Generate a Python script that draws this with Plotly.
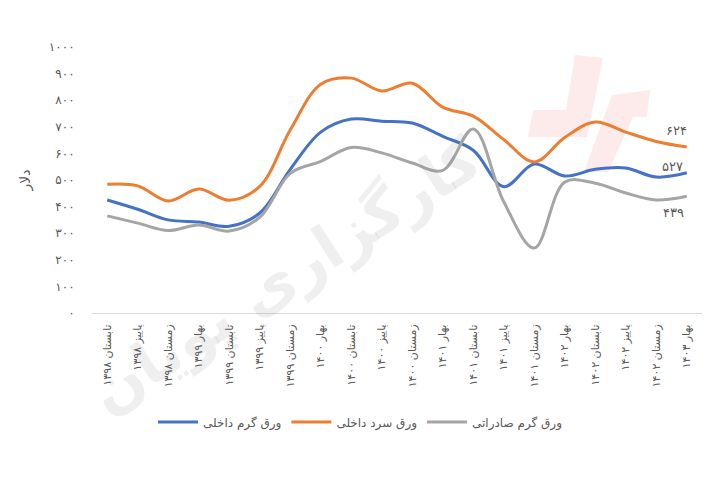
import plotly.graph_objects as go

categories = [
    "تابستان ۱۳۹۸", "پاییز ۱۳۹۸", "زمستان ۱۳۹۸", "بهار ۱۳۹۹", "تابستان ۱۳۹۹",
    "پاییز ۱۳۹۹", "زمستان ۱۳۹۹", "بهار ۱۴۰۰", "تابستان ۱۴۰۰", "پاییز ۱۴۰۰",
    "زمستان ۱۴۰۰", "بهار ۱۴۰۱", "تابستان ۱۴۰۱", "پاییز ۱۴۰۱", "زمستان ۱۴۰۱",
    "بهار ۱۴۰۲", "تابستان ۱۴۰۲", "پاییز ۱۴۰۲", "زمستان ۱۴۰۲", "بهار ۱۴۰۳",
]
hot_domestic = [425, 390, 350, 342, 326, 376, 540, 680, 729, 721, 714, 664, 612, 475, 560, 515, 540, 545, 511, 527]
cold_domestic = [484, 478, 421, 466, 424, 476, 688, 860, 883, 835, 864, 774, 740, 652, 568, 660, 718, 680, 645, 624]
hot_export = [365, 338, 310, 331, 308, 360, 525, 570, 622, 602, 564, 536, 692, 418, 244, 492, 488, 451, 425, 439]

series_names = ["ورق گرم داخلی", "ورق سرد داخلی", "ورق گرم صادراتی"]
series_colors = ["#4472C4", "#ED7D31", "#A5A5A5"]
end_labels = ["۵۲۷", "۶۲۴", "۴۳۹"]

y_ticks = [0, 100, 200, 300, 400, 500, 600, 700, 800, 900, 1000]
y_tick_text = ["۰", "۱۰۰", "۲۰۰", "۳۰۰", "۴۰۰", "۵۰۰", "۶۰۰", "۷۰۰", "۸۰۰", "۹۰۰", "۱۰۰۰"]
y_title = "دلار"
watermark = "کارگزاری پویان"

FONT = "DejaVu Sans"
TXT = "#595959"

# plot area in pixels (for decorative watermark placement)
L, R, T, B = 92, 702, 47, 313
def px(x):
    return (x - L) / (R - L)
def py(y):
    return (B - y) / (B - T)

fig = go.Figure()
for name, vals, col in zip(series_names, [hot_domestic, cold_domestic, hot_export], series_colors):
    fig.add_trace(go.Scatter(
        x=list(range(len(categories))), y=vals, name=name, mode="lines",
        line=dict(color=col, width=3, shape="spline", smoothing=1.0),
    ))

offsets = [(-14, -6), (-10, -17), (-13, 16)]
for vals, lab, (dx, dy) in zip([hot_domestic, cold_domestic, hot_export], end_labels, offsets):
    fig.add_annotation(x=len(categories) - 1, y=vals[-1], text=lab, showarrow=False,
                       xshift=dx, yshift=-dy, font=dict(family=FONT, size=13, color=TXT))

# faint logo shapes (decoration, behind the lines)
def poly(pts):
    return "M " + " L ".join(f"{px(a):.4f},{py(b):.4f}" for a, b in pts) + " Z"

logo_left = [(575, 55), (603, 58), (587, 137), (528, 137), (533, 110), (566, 110)]
logo_right = [(612, 95), (650, 90), (647, 117), (633, 117), (608, 172), (584, 172)]
for pts in (logo_left, logo_right):
    fig.add_shape(type="path", path=poly(pts), xref="paper", yref="paper",
                  fillcolor="#FDEBEC", line=dict(width=0), layer="below")

# faint watermark text
fig.add_annotation(x=px(285), y=py(275), xref="paper", yref="paper", text=watermark,
                   showarrow=False, textangle=-33, xanchor="center", yanchor="middle",
                   font=dict(family=FONT, size=60, color="rgba(120,120,120,0.12)", weight="bold"))

fig.update_layout(
    width=720, height=480,
    margin=dict(l=L, r=720 - R, t=T, b=480 - B),
    paper_bgcolor="white", plot_bgcolor="white",
    font=dict(family=FONT, color=TXT, size=11),
    showlegend=True,
    legend=dict(orientation="h", x=px(360), xanchor="center", y=-0.41, yanchor="middle",
                font=dict(family=FONT, size=12, color=TXT), itemwidth=40, tracegroupgap=0),
)
fig.update_xaxes(
    range=[-0.5, len(categories) - 0.5],
    tickmode="array", tickvals=list(range(len(categories))), ticktext=categories,
    tickangle=-90, showgrid=False, zeroline=False,
    showline=True, linecolor="#D9D9D9", linewidth=1,
    ticks="outside", ticklen=6, tickcolor="rgba(0,0,0,0)",
    tickfont=dict(family=FONT, size=11, color=TXT),
)
fig.update_yaxes(
    range=[0, 1000], tickmode="array", tickvals=y_ticks, ticktext=y_tick_text,
    showgrid=False, zeroline=False, showline=False,
    ticks="outside", ticklen=14, tickcolor="rgba(0,0,0,0)",
    tickfont=dict(family=FONT, size=12, color=TXT),
    title=dict(text=y_title, font=dict(family=FONT, size=14, color=TXT), standoff=14),
)

fig.write_html("out.html")
